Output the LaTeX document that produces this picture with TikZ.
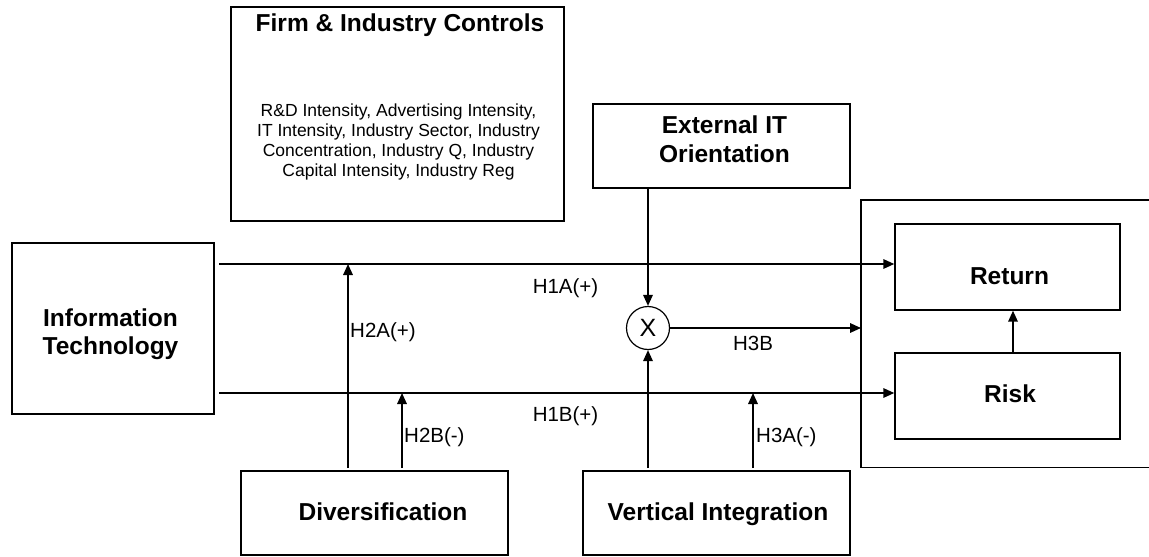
\documentclass[tikz,border=0pt]{standalone}
\usepackage{fontspec}
\setmainfont{Liberation Sans}
\usetikzlibrary{arrows.meta}
\begin{document}
\begin{tikzpicture}[x=1pt,y=-1pt,
  box/.style={draw, line width=1.4pt, rectangle, inner sep=0pt},
  arr/.style={line width=1.7pt, -{Triangle[length=11pt,width=9.5pt]}},
  ln/.style={line width=1.4pt},
  bigtxt/.style={font=\fontsize{24.5}{28.5}\selectfont\bfseries, align=center, inner sep=0pt},
  smalltxt/.style={font=\fontsize{17.5}{20}\selectfont, align=center, inner sep=0pt},
  lab/.style={font=\fontsize{20.5}{24}\selectfont, inner sep=0pt}
]
\useasboundingbox (0,0) rectangle (1149,557);

% boxes
\node[box, minimum width=333pt, minimum height=214pt] (firm) at (397.5,114) {};
\node[box, minimum width=257pt, minimum height=84pt] (ext) at (721.5,146) {};
\node[box, minimum width=202pt, minimum height=171pt] (it) at (113,328.5) {};
\node[box, minimum width=225pt, minimum height=86pt] (ret) at (1007.5,267) {};
\node[box, minimum width=225pt, minimum height=86pt] (risk) at (1007.5,396) {};
\node[box, minimum width=267pt, minimum height=84pt] (div) at (374.5,513) {};
\node[box, minimum width=267pt, minimum height=84pt] (vi) at (716.5,513) {};
\node[inner sep=0pt, minimum width=288pt, minimum height=267pt, anchor=north west] (outcome) at (861,200) {};
\draw[ln] (outcome.north east) -- (outcome.north west) -- (outcome.south west) -- (outcome.south east);
\node[circle, draw, line width=1.2pt, minimum size=43pt, inner sep=0pt, font=\fontsize{25}{30}\selectfont] (mult) at (648,328) {X};

% texts (base anchor = baseline of the last line)
\node[bigtxt, anchor=base] (firmT) at (400,31) {Firm \& Industry Controls};
\node[smalltxt, anchor=base] (firmB) at (398.5,176) {R\&D Intensity, Advertising Intensity,\\IT Intensity, Industry Sector, Industry\\Concentration, Industry Q, Industry\\Capital Intensity, Industry Reg};
\node[bigtxt, anchor=base] (extT) at (724.5,162) {External IT\\Orientation};
\node[bigtxt, anchor=base] (itT) at (110.5,354.5) {Information\\Technology};
\node[bigtxt, anchor=base] (retT) at (1009.5,284) {Return};
\node[bigtxt, anchor=base] (riskT) at (1010,402) {Risk};
\node[bigtxt, anchor=base] (divT) at (383,520) {Diversification};
\node[bigtxt, anchor=base] (viT) at (718,520) {Vertical Integration};

% connectors
\coordinate (s1) at (219,264);
\coordinate (s2) at (219,393);
\draw[arr] (s1) -- (s1 -| ret.west);
\draw[arr] (s2) -- (s2 -| risk.west);
\coordinate (d1) at (348,468);
\coordinate (d2) at (402,468);
\coordinate (v2) at (753,468);
\draw[arr] (d1) -- (d1 |- s1);
\draw[arr] (d2) -- (d2 |- s2);
\draw[arr] (mult.south |- d1) -- (mult.south);
\draw[arr] (v2) -- (v2 |- s2);
\draw[arr] (mult.north |- ext.south) -- (mult.north);
\draw[arr] (mult.east) -- (mult.east -| outcome.west);
\draw[arr] ([xshift=5.5pt]risk.north) -- ([xshift=5.5pt]ret.south);

% labels
\node[lab, anchor=base] (h1a) at (565.5,293) {H1A(+)};
\node[lab, anchor=base] (h1b) at (565.5,421) {H1B(+)};
\node[lab, anchor=base west] (h2a) at (350,337) {H2A(+)};
\node[lab, anchor=base west] (h2b) at (404,442) {H2B(-)};
\node[lab, anchor=base west] (h3a) at (756,442) {H3A(-)};
\node[lab, anchor=base] (h3b) at (753,350) {H3B};
\end{tikzpicture}
\end{document}
